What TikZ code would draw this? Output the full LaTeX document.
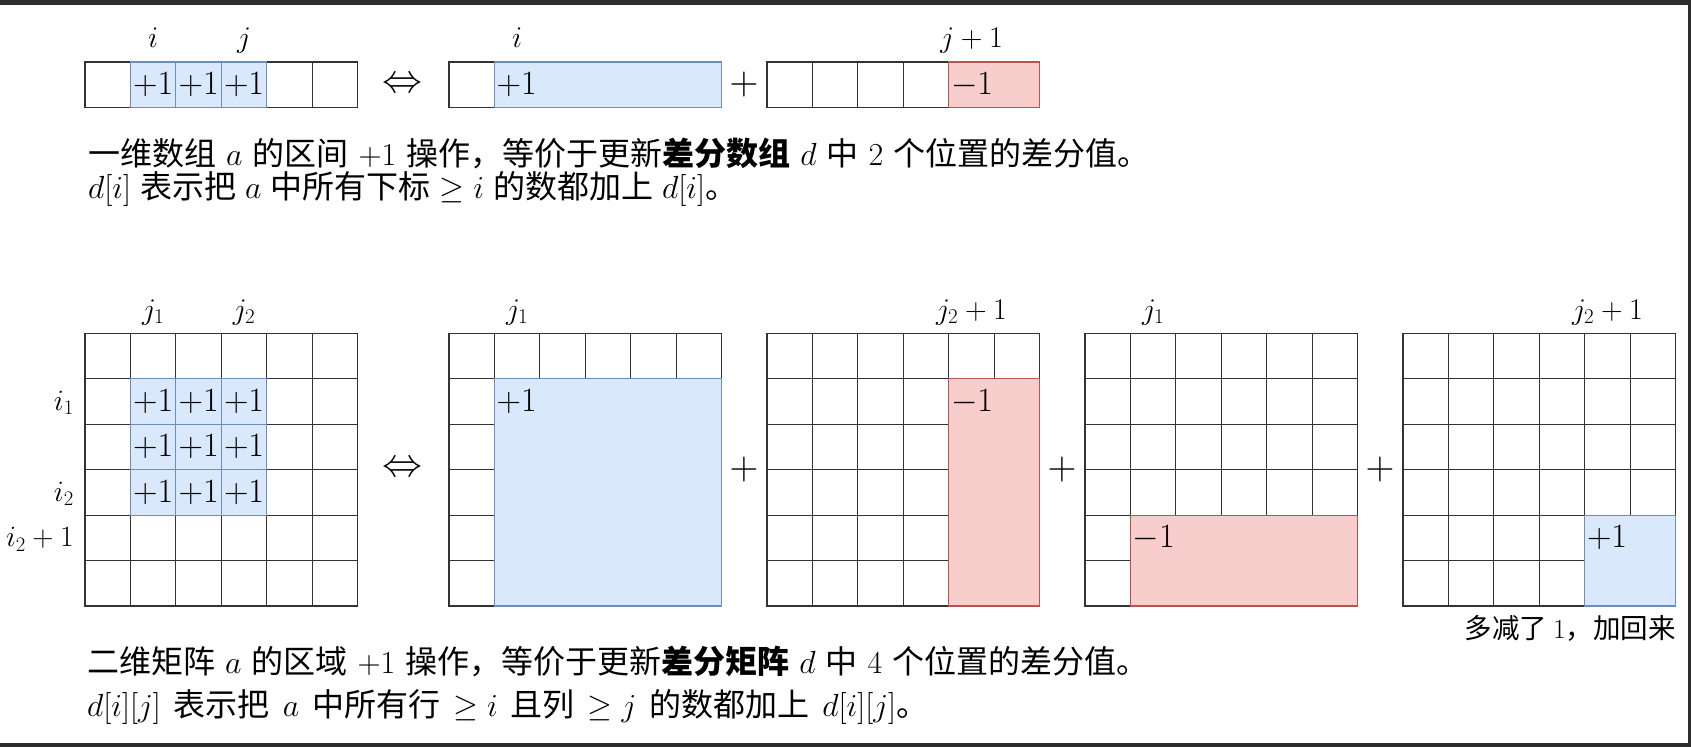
\RequirePackage{fix-cm}
\documentclass[tikz,border=0pt]{standalone}
\usepackage[no-math]{fontspec}
\setmainfont{Noto Sans CJK SC}
\definecolor{bfill}{HTML}{DAE8FC}
\definecolor{bline}{HTML}{6C8EBF}
\definecolor{rfill}{HTML}{F8CECC}
\definecolor{rline}{HTML}{B85450}
\definecolor{framec}{HTML}{2D2D2D}
\definecolor{gline}{HTML}{333333}
\newcommand\widesp{\spaceskip 10pt\relax}
\newcommand\narrowsp{\spaceskip 9pt\relax}
\newcommand\widersp{\spaceskip 13pt\relax}
\tikzset{
  gridline/.style={draw=gline, line width=1.1pt},
  bluebox/.style={fill=bfill, draw=bline, line width=1.1pt},
  redbox/.style={fill=rfill, draw=rline, line width=1.1pt},
  cellnum/.style={font=\fontsize{34}{38}\selectfont, inner sep=0pt},
  lab/.style={font=\fontsize{30}{34}\selectfont, inner sep=0pt, anchor=base},
  rowlab/.style={font=\fontsize{29.5}{34}\selectfont, inner sep=0pt, anchor=base east},
  sym/.style={font=\fontsize{40}{44}\selectfont, inner sep=0pt},
  txt/.style={font=\fontsize{32}{38}\selectfont\widesp, inner sep=0pt, anchor=base west, text height=22pt, text depth=4pt},
  notetxt/.style={font=\fontsize{27.5}{33}\selectfont, inner sep=0pt, anchor=base east},
}
\def\cs{45.45}
\newcommand\drawgrid[4]{%
  \foreach \cc in {1,...,#3} {\foreach \rr in {1,...,#4} {%
    \draw[gridline] ({#1+(\cc-1)*\cs},{#2+(\rr-1)*\cs}) rectangle ++(\cs,\cs);}}}
\begin{document}
\begin{tikzpicture}[x=1pt,y=-1pt]
\useasboundingbox (0,0) rectangle (1691,747);
\fill[framec] (0,0) rectangle (1691,4.5);
\fill[framec] (1688,0) rectangle (1691,747);
\fill[framec] (0,743) rectangle (1691,747);
% ---------- 1D ----------
\def\ya{62}
\drawgrid{85}{\ya}{6}{1}
\foreach \cc in {1,2,3} {
  \draw[bluebox] ({85+\cc*\cs},\ya) rectangle ++(\cs,\cs);
  \node[cellnum] (oa\cc) at ({85+(\cc+0.5)*\cs},{\ya+0.5*\cs}) {$+1$};
}
\node[lab] (li) at ({85+1.5*\cs},47) {$i$};
\node[lab] (lj) at ({85+3.5*\cs},47) {$j$};
\node[sym] (eqa) at (402,{\ya+0.5*\cs}) {$\Leftrightarrow$};
\drawgrid{449}{\ya}{6}{1}
\draw[bluebox] ({449+\cs},\ya) rectangle ({449+6*\cs},{\ya+\cs});
\node[cellnum, anchor=west] (ob) at ({449+\cs+2},{\ya+0.5*\cs}) {$+1$};
\node[lab] (lib) at ({449+1.5*\cs},47) {$i$};
\node[sym] (pla) at (744,{\ya+0.5*\cs}) {$+$};
\drawgrid{767}{\ya}{6}{1}
\draw[redbox] ({767+4*\cs},\ya) rectangle ({767+6*\cs},{\ya+\cs});
\node[cellnum, anchor=west] (oc) at ({767+4*\cs+2},{\ya+0.5*\cs}) {$-1$};
\node[lab] (ljc) at ({767+4.5*\cs},47) {$j+1$};
\node[txt] (t1) at (88,165) {一维数组 $a$ 的区间 $+1$ 操作，等价于更新\textbf{差分数组} $d$ 中 $2$ 个位置的差分值。};
\node[txt, font=\fontsize{32}{38}\selectfont\narrowsp] (t2) at (88,198) {$d[i]$ 表示把 $a$ 中所有下标 $\geq i$ 的数都加上 $d[i]$。};
% ---------- 2D ----------
\def\yb{333.3}
\def\lb{319}
% A
\drawgrid{85}{\yb}{6}{6}
\foreach \cc in {1,2,3} {\foreach \rr in {1,2,3} {
  \draw[bluebox] ({85+\cc*\cs},{\yb+\rr*\cs}) rectangle ++(\cs,\cs);
  \node[cellnum] (pa\rr\cc) at ({85+(\cc+0.5)*\cs},{\yb+(\rr+0.5)*\cs}) {$+1$};
}}
\node[lab] (aj1) at ({85+1.5*\cs},\lb) {$j_1$};
\node[lab] (aj2) at ({85+3.5*\cs},\lb) {$j_2$};
\node[rowlab] (ai1) at (74,{\yb+1.5*\cs+9}) {$i_1$};
\node[rowlab] (ai2) at (74,{\yb+3.5*\cs+9}) {$i_2$};
\node[rowlab] (ai3) at (74,{\yb+4.5*\cs+9}) {$i_2+1$};
\node[sym] (eqb) at (402,{\yb+3*\cs}) {$\Leftrightarrow$};
% B
\drawgrid{449}{\yb}{6}{6}
\draw[bluebox] ({449+\cs},{\yb+\cs}) rectangle ({449+6*\cs},{\yb+6*\cs});
\node[cellnum, anchor=west] (pb) at ({449+\cs+2},{\yb+1.5*\cs}) {$+1$};
\node[lab] (bj1) at ({449+1.5*\cs},\lb) {$j_1$};
\node[sym] (plb) at (744,{\yb+3*\cs}) {$+$};
% C
\drawgrid{767}{\yb}{6}{6}
\draw[redbox] ({767+4*\cs},{\yb+\cs}) rectangle ({767+6*\cs},{\yb+6*\cs});
\node[cellnum, anchor=west] (pc) at ({767+4*\cs+2},{\yb+1.5*\cs}) {$-1$};
\node[lab] (cj2) at ({767+4.5*\cs},\lb) {$j_2+1$};
\node[sym] (plc) at (1062,{\yb+3*\cs}) {$+$};
% D
\drawgrid{1085}{\yb}{6}{6}
\draw[redbox] ({1085+\cs},{\yb+4*\cs}) rectangle ({1085+6*\cs},{\yb+6*\cs});
\node[cellnum, anchor=west] (pd) at ({1085+\cs+2},{\yb+4.5*\cs}) {$-1$};
\node[lab] (dj1) at ({1085+1.5*\cs},\lb) {$j_1$};
\node[sym] (pld) at (1380,{\yb+3*\cs}) {$+$};
% E
\drawgrid{1403}{\yb}{6}{6}
\draw[bluebox] ({1403+4*\cs},{\yb+4*\cs}) rectangle ({1403+6*\cs},{\yb+6*\cs});
\node[cellnum, anchor=west] (pe) at ({1403+4*\cs+2},{\yb+4.5*\cs}) {$+1$};
\node[lab] (ej2) at ({1403+4.5*\cs},\lb) {$j_2+1$};
\node[notetxt] (note) at (1676,638) {多减了 $1$，加回来};
\node[txt] (t3) at (87,673) {二维矩阵 $a$ 的区域 $+1$ 操作，等价于更新\textbf{差分矩阵} $d$ 中 $4$ 个位置的差分值。};
\node[txt, font=\fontsize{32}{38}\selectfont\widersp] (t4) at (87,716) {$d[i][j]$ 表示把 $a$ 中所有行 $\geq i$ 且列 $\geq j$ 的数都加上 $d[i][j]$。};
\end{tikzpicture}
\end{document}
